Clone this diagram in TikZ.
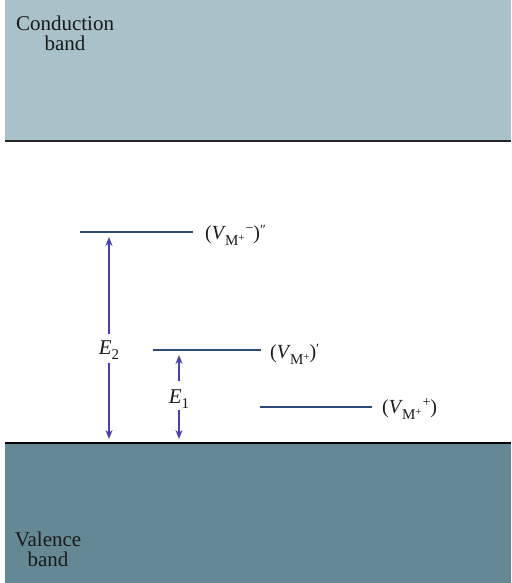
\documentclass[tikz,border=0pt]{standalone}
\usepackage{fontspec}
\setmainfont{Liberation Serif}
\usetikzlibrary{arrows.meta}
\definecolor{cbfill}{HTML}{A9C1C8}
\definecolor{vbfill}{HTML}{648894}
\definecolor{lvl}{HTML}{2C4A78}
\definecolor{arr}{HTML}{4A40B4}
\definecolor{txt}{HTML}{1A1A1A}
\newcommand{\subMp}{\raisebox{-0.6ex}{\fontsize{15}{15}\selectfont M\raisebox{0.55ex}{\fontsize{11}{11}\selectfont +}}}
\newcommand{\supsg}[1]{\raisebox{0.75ex}{\fontsize{14}{14}\selectfont #1}}
\begin{document}
\begin{tikzpicture}[x=1pt,y=-1pt,
  bandtext/.style={text=txt,align=center,font=\fontsize{21}{20}\selectfont,inner sep=0pt},
  lvltext/.style={text=txt,anchor=west,font=\fontsize{20}{20}\selectfont,inner sep=0pt},
  level/.style={draw=lvl,line width=1.6pt},
  earrow/.style={draw=arr,line width=1.4pt,-{Stealth[length=9pt,width=7pt]}},
  elabel/.style={text=txt,font=\fontsize{21}{21}\selectfont,inner sep=0pt}]
\useasboundingbox (0,0) rectangle (511,583);
% bands
\fill[cbfill] (5,0) rectangle (511,141);
\draw[black!85,line width=2pt] (5,141) -- (511,141);
\fill[vbfill] (5,443) rectangle (511,583);
\draw[black,line width=2.2pt] (5,443) -- (511,443);
\node[bandtext] (cb) at (65,33) {Conduction\\band};
\node[bandtext] (vb) at (48,549) {Valence\\band};
% levels
\coordinate (l1a) at (80,232);
\coordinate (l1b) at (193,232);
\coordinate (l2a) at (153,350);
\coordinate (l2b) at (261,350);
\coordinate (l3a) at (260,407);
\coordinate (l3b) at (372,407);
\draw[level] (l1a) -- (l1b);
\draw[level] (l2a) -- (l2b);
\draw[level] (l3a) -- (l3b);
\node[lvltext] (t1) at (205,235) {(\textit{V}\kern-1pt\subMp\kern1pt\supsg{\textminus})\raisebox{0.6ex}{\fontsize{14}{14}\selectfont ″}};
\node[lvltext] (t2) at (270,354) {(\textit{V}\kern-1pt\subMp)\raisebox{0.6ex}{\fontsize{14}{14}\selectfont ′}};
\node[lvltext] (t3) at (382,409) {(\textit{V}\kern-1pt\subMp\kern1pt\supsg{+})};
% energy arrows
\coordinate (e2top) at (109,237);
\coordinate (e2bot) at (109,439);
\coordinate (e1top) at (179,355);
\coordinate (e1bot) at (179,439);
\node[elabel] (E2) at (109,350) {\textit{E}\raisebox{-0.5ex}{\fontsize{15}{15}\selectfont 2}};
\node[elabel] (E1) at (179,399) {\textit{E}\raisebox{-0.5ex}{\fontsize{15}{15}\selectfont 1}};
\draw[earrow] ([yshift=7pt]E2.north) -- (e2top);
\draw[earrow] ([yshift=-4pt]E2.south) -- (e2bot);
\draw[earrow] ([yshift=9pt]E1.north) -- (e1top);
\draw[earrow] ([yshift=-2pt]E1.south) -- (e1bot);
\end{tikzpicture}
\end{document}
